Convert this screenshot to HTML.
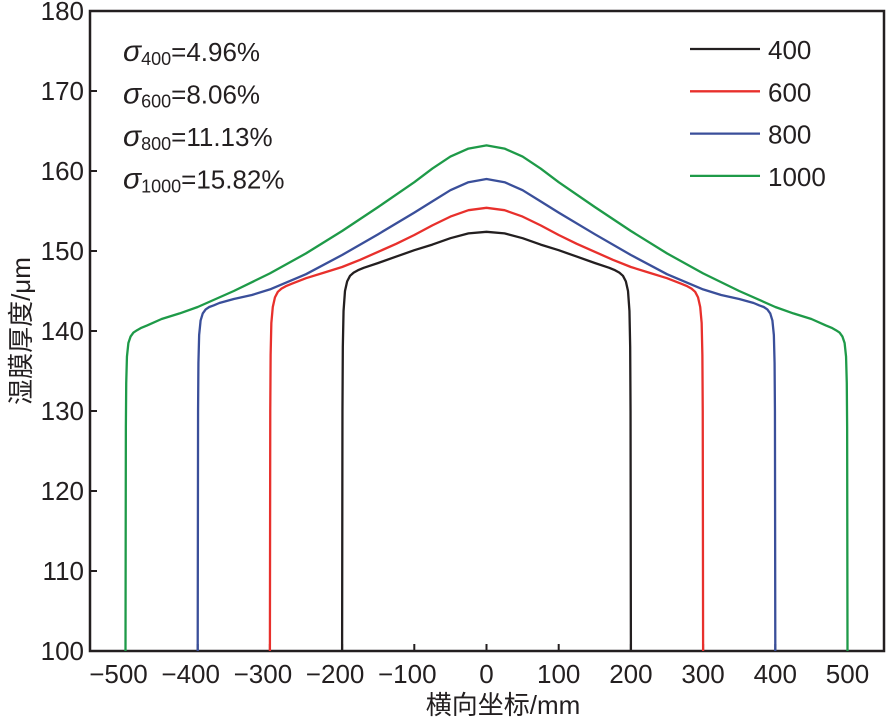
<!DOCTYPE html>
<html><head><meta charset="utf-8"><style>body{margin:0;background:#fff}svg{display:block;font-family:"Liberation Sans","Noto Sans CJK SC",sans-serif}</style></head>
<body>
<svg id="c" width="886" height="719"></svg>
<script>
const xTicks=[-500,-400,-300,-200,-100,0,100,200,300,400,500];
const yTicks=[100,110,120,130,140,150,160,170,180];
const seriesNames=["400","600","800","1000"];
const seriesColors=["#231f20","#e8302c","#3a4f9a","#1e9a48"];
const x400=[-200,-199.5,-199,-198,-196,-193,-189,-184,-178,-170,-150,-125,-100,-75,-50,-25,0,25,50,75,100,125,150,170,178,184,189,193,196,198,199,199.5,200];
const y400=[100,130,138,142.5,145,146.2,146.9,147.3,147.6,147.9,148.5,149.3,150.1,150.8,151.6,152.2,152.4,152.2,151.6,150.8,150.1,149.3,148.5,147.9,147.6,147.3,146.9,146.2,145,142.5,138,130,100];
const x600=[-300,-299.5,-299,-298,-296,-293,-289,-284,-278,-270,-250,-225,-200,-175,-150,-125,-100,-75,-50,-25,0,25,50,75,100,125,150,175,200,225,250,270,278,284,289,293,296,298,299,299.5,300];
const y600=[100,130,137,141,143,144.2,144.9,145.3,145.6,145.9,146.6,147.3,148,148.9,149.9,150.9,152,153.2,154.3,155.1,155.4,155.1,154.3,153.2,152,150.9,149.9,148.9,148,147.3,146.6,145.9,145.6,145.3,144.9,144.2,143,141,137,130,100];
const x800=[-400,-399.5,-399,-398,-396,-393,-389,-384,-378,-370,-350,-325,-300,-250,-200,-150,-100,-75,-50,-25,0,25,50,75,100,150,200,250,300,325,350,370,378,384,389,393,396,398,399,399.5,400];
const y800=[100,130,136,139.5,141.3,142.2,142.7,143,143.2,143.5,144,144.5,145.2,147.1,149.5,152.1,154.8,156.2,157.6,158.6,159,158.6,157.6,156.2,154.8,152.1,149.5,147.1,145.2,144.5,144,143.5,143.2,143,142.7,142.2,141.3,139.5,136,130,100];
const x1000=[-500,-499.5,-499,-498,-496,-493,-489,-484,-478,-470,-450,-425,-400,-350,-300,-250,-200,-150,-100,-75,-50,-25,0,25,50,75,100,150,200,250,300,350,400,425,450,470,478,484,489,493,496,498,499,499.5,500];
const y1000=[100,128,133.5,136.8,138.5,139.3,139.8,140.1,140.4,140.7,141.5,142.2,143,145,147.2,149.7,152.5,155.5,158.6,160.3,161.8,162.8,163.2,162.8,161.8,160.3,158.6,155.5,152.5,149.7,147.2,145,143,142.2,141.5,140.7,140.4,140.1,139.8,139.3,138.5,136.8,133.5,128,100];
const sigmaSub=["400","600","800","1000"];
const sigmaVal=["4.96%","8.06%","11.13%","15.82%"];
const xs=[x400,x600,x800,x1000], ys=[y400,y600,y800,y1000];
const L=90,R=884,T=11,B=651;
const X=v=>486.5+v*0.722, Y=v=>B-(v-100)*8;
const svg=document.getElementById('c');const NS="http://www.w3.org/2000/svg";
function mk(t,a,p){const e=document.createElementNS(NS,t);for(const k in a)e.setAttribute(k,a[k]);(p||svg).appendChild(e);return e;}
let fr=mk('rect',{x:L,y:T,width:R-L,height:B-T,fill:'none',stroke:'#231f20','stroke-width':2.5});

xTicks.forEach(v=>{let l=mk('line',{x1:X(v),x2:X(v),y1:B,y2:B-7,stroke:'#231f20','stroke-width':2});

let t=mk('text',{x:X(v)+(v<0?-7:0),y:B+32,'text-anchor':'middle','font-size':26,fill:'#231f20'});t.textContent=(v<0?'\u2212'+(-v):v);
});
yTicks.forEach(v=>{let l=mk('line',{x1:L,x2:L+7,y1:Y(v),y2:Y(v),stroke:'#231f20','stroke-width':2});

let t=mk('text',{x:L-6,y:Y(v)+9,'text-anchor':'end','font-size':26,fill:'#231f20'});t.textContent=v;
});
xs.forEach((xa,i)=>{let p=mk('polyline',{points:xa.map((x,j)=>X(x)+','+Y(ys[i][j])).join(' '),fill:'none',stroke:seriesColors[i],'stroke-width':2.3,'stroke-linejoin':'round'});

let ly=49+i*42.3;let l=mk('line',{x1:690,x2:760,y1:ly,y2:ly,stroke:seriesColors[i],'stroke-width':2.3});

let t=mk('text',{x:768,y:ly+10,'font-size':26,fill:'#231f20'});t.textContent=seriesNames[i];

let s=mk('text',{x:123,y:61+i*42.5,'font-size':26,fill:'#231f20'});

let a=mk('tspan',{'font-style':'italic','font-size':30},s);a.textContent='\u03c3';
let b=mk('tspan',{'font-size':18,dy:4},s);b.textContent=sigmaSub[i];
let c=mk('tspan',{dy:-4},s);c.textContent='='+sigmaVal[i];});
let xt=mk('text',{x:503,y:714,'text-anchor':'middle','font-size':26,fill:'#231f20'});xt.textContent='横向坐标/mm';

let yt=mk('text',{x:0,y:0,'text-anchor':'middle','font-size':26,fill:'#231f20',transform:'translate(30,331) rotate(-90)'});yt.textContent='湿膜厚度/μm';

</script>
</body></html>
